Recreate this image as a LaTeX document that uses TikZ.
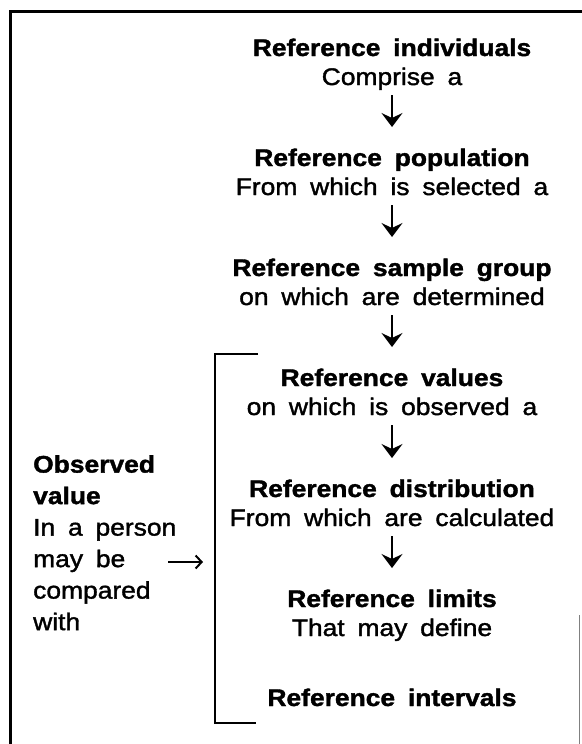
\documentclass[tikz,border=0pt]{standalone}
\usepackage{fontspec}
\setmainfont{Liberation Sans}[FakeStretch=1.1, WordSpace=1.75, FakeBold=1.5]
\usetikzlibrary{arrows.meta,calc}
\begin{document}
\begin{tikzpicture}[x=1pt,y=-1pt,
  every node/.style={inner sep=0pt, font=\fontsize{24}{31.5}\selectfont},
  ttl/.style={anchor=base, font=\fontsize{24}{31.5}\selectfont\bfseries},
  sub/.style={anchor=base},
  flow/.style={line width=2.2pt, -{Stealth[length=14pt,width=21pt,inset=5pt,line width=1pt,fill=black]}},
  side/.style={line width=1.8pt, -{Straight Barb[length=6pt,width=13pt,line width=2pt]}},
  frame/.style={line width=3pt},
  brk/.style={line width=2.8pt},
]
\useasboundingbox (0,0) rectangle (581,744);
% frame
\draw[frame] (10,746) -- (10,11) -- (583,11);
\draw[gray, line width=1pt] (579,615) -- (579,746);

% main column
\node[ttl] (t1) at (392,56) {Reference individuals};
\node[sub] (s1) at (392,85) {Comprise a};
\node[ttl] (t2) at (392,166) {Reference population};
\node[sub] (s2) at (392,195) {From which is selected a};
\node[ttl] (t3) at (392,276) {Reference sample group};
\node[sub] (s3) at (392,305) {on which are determined};
\node[ttl] (t4) at (392,386) {Reference values};
\node[sub] (s4) at (392,415) {on which is observed a};
\node[ttl] (t5) at (392,497) {Reference distribution};
\node[sub] (s5) at (392,526) {From which are calculated};
\node[ttl] (t6) at (392,607) {Reference limits};
\node[sub] (s6) at (392,636) {That may define};
\node[ttl] (t7) at (392,706) {Reference intervals};

\foreach \a/\b in {s1/t2, s2/t3, s3/t4, s4/t5, s5/t6}
  \draw[flow] ($(\a.base)+(0,10)$) -- ($(\b.base)+(0,-39)$);

% left text
\node[anchor=north west, align=left] (ov) at (33,455)
  {\textbf{Observed}\\\textbf{value}\\In a person\\may be\\compared\\with};

% side arrow
\coordinate (ha) at (168,562);
\coordinate (hb) at (203,562);
\draw[side] (ha) -- (hb);

% bracket
\coordinate (b1) at (258,354);
\coordinate (b2) at (215,354);
\coordinate (b3) at (215,723);
\coordinate (b4) at (256,723);
\draw[brk] (b1) -- (b2) -- (b3) -- (b4);
\end{tikzpicture}
\end{document}
